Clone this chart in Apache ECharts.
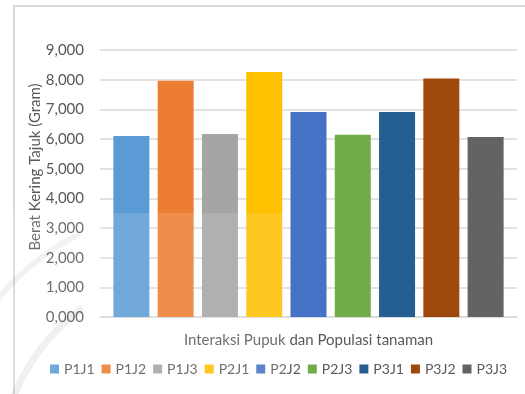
<!DOCTYPE html>
<html>
<head>
<meta charset="utf-8">
<script src="https://cdn.jsdelivr.net/npm/echarts@6/dist/echarts.min.js"></script>
<style>
  html, body { margin: 0; padding: 0; background: #ffffff; }
  #chart { width: 525px; height: 394px; }
</style>
</head>
<body>
<div id="chart"></div>
<script>
// Treatment combinations (fertiliser x plant population)
const seriesNames = ['P1J1', 'P1J2', 'P1J3', 'P2J1', 'P2J2', 'P2J3', 'P3J1', 'P3J2', 'P3J3'];
// Shoot dry weight per treatment (gram)
const dryWeight = [6.10, 7.96, 6.17, 8.26, 6.91, 6.14, 6.91, 8.04, 6.07];
const seriesColors = ['#5B9BD5', '#ED7D31', '#A5A5A5', '#FFC000', '#4472C4', '#70AD47', '#255E91', '#9E480E', '#636363'];
const yTicks = { min: 0, max: 9, step: 1 };
const xTitle = 'Interaksi Pupuk dan Populasi tanaman';
const yTitle = 'Berat Kering Tajuk (Gram)';

const FONT = 'Lato, "Open Sans", sans-serif';
const TEXT = '#595959';
const GRID = '#d9d9d9';

const chart = echarts.init(document.getElementById('chart'), null, { renderer: 'canvas' });

const series = seriesNames.map((name, i) => ({
  name: name,
  type: 'bar',
  data: [dryWeight[i]],
  barWidth: 36,
  barGap: '23%',
  itemStyle: { color: seriesColors[i] },
  emphasis: { disabled: true }
}));

chart.setOption({
  animation: false,
  backgroundColor: '#ffffff',
  textStyle: { fontFamily: FONT },
  grid: { left: 100, right: 8, top: 50, bottom: 77, containLabel: false },
  xAxis: {
    type: 'category',
    data: [''],
    name: xTitle,
    nameLocation: 'middle',
    nameGap: 16,
    nameTextStyle: { color: TEXT, fontSize: 15, fontFamily: FONT },
    axisLine: { lineStyle: { color: GRID, width: 1.5 } },
    axisTick: { show: false },
    axisLabel: { show: false }
  },
  yAxis: {
    type: 'value',
    min: yTicks.min,
    max: yTicks.max,
    interval: yTicks.step,
    axisLine: { show: false },
    axisTick: { show: false },
    axisLabel: {
      color: TEXT,
      fontSize: 15,
      fontFamily: FONT,
      margin: 16,
      formatter: v => v.toFixed(3).replace('.', ',')
    },
    splitLine: { lineStyle: { color: GRID, width: 1.5 } }
  },
  legend: {
    data: seriesNames,
    left: 45,
    top: 357,
    icon: 'rect',
    itemWidth: 9,
    itemHeight: 9,
    itemGap: 7,
    textStyle: { color: TEXT, fontSize: 14, fontFamily: FONT }
  },
  series: series,
  graphic: [
    {
      type: 'rect',
      silent: true,
      shape: { x: 14, y: 6, width: 600, height: 500 },
      style: { fill: 'none', stroke: GRID, lineWidth: 2 }
    },
    {
      type: 'text',
      silent: true,
      x: 35,
      y: 167,
      rotation: Math.PI / 2,
      style: {
        text: yTitle,
        fill: TEXT,
        font: '15px ' + FONT,
        align: 'center',
        verticalAlign: 'middle'
      }
    },
    // faint stamp over the lower-left part of the plot
    {
      type: 'rect',
      silent: true,
      z: 100,
      shape: { x: 0, y: 213, width: 286, height: 181 },
      style: { fill: 'rgba(255,255,255,0.13)' }
    },
    {
      type: 'arc',
      silent: true,
      z: 101,
      shape: { cx: 200, cy: 470, r: 265, startAngle: Math.PI * 1.05, endAngle: Math.PI * 1.35 },
      style: { stroke: 'rgba(0,0,0,0.05)', lineWidth: 6, fill: 'none' }
    },
    {
      type: 'arc',
      silent: true,
      z: 101,
      shape: { cx: 200, cy: 470, r: 200, startAngle: Math.PI * 1.0, endAngle: Math.PI * 1.3 },
      style: { stroke: 'rgba(0,0,0,0.06)', lineWidth: 7, fill: 'none' }
    }
  ]
});
</script>
</body>
</html>
